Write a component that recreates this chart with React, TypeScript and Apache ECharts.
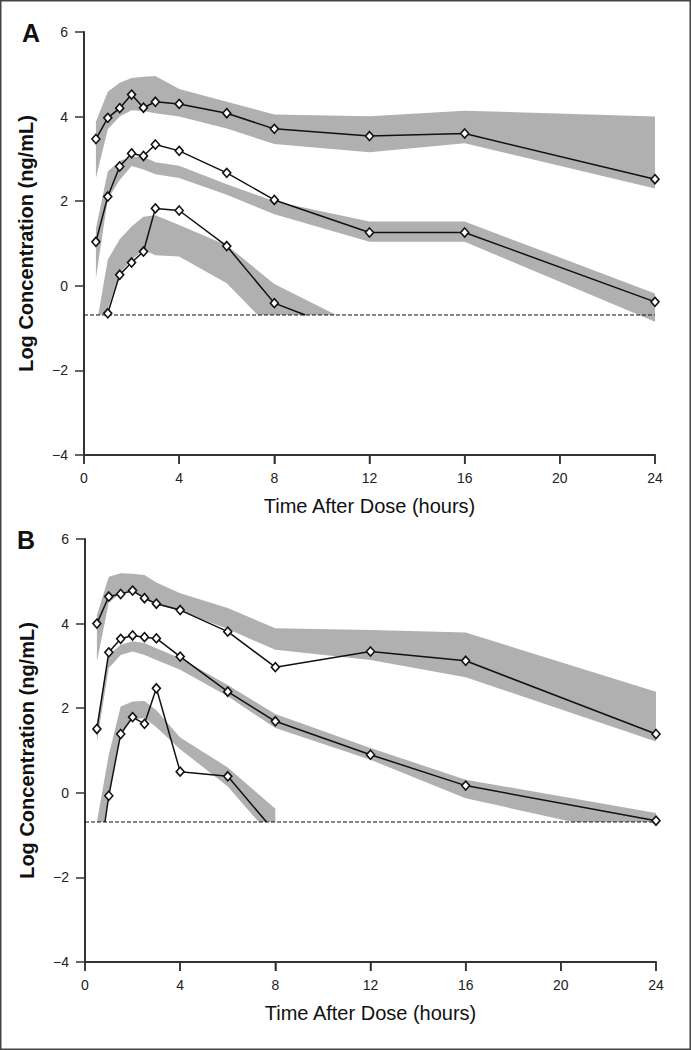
import React, { useEffect, useRef } from "react";
import * as echarts from "echarts";

// ---- data ----
const times = [0.5, 1, 1.5, 2, 2.5, 3, 4, 6, 8, 12, 16, 24];
const LLOQ = -0.69;
const xTicks = [0, 4, 8, 12, 16, 20, 24];
const xRange = [0, 24];
const yBottom = -4;

// Panel A observed
const aTop = [3.47, 3.97, 4.2, 4.52, 4.21, 4.35, 4.3, 4.08, 3.71, 3.54, 3.6, 2.52];
const aMid = [1.04, 2.11, 2.82, 3.13, 3.07, 3.34, 3.19, 2.67, 2.03, 1.26, 1.26, -0.38];
const aLowTimes = [1, 1.5, 2, 2.5, 3, 4, 6, 8];
const aLow = [-0.65, 0.26, 0.55, 0.81, 1.83, 1.78, 0.94, -0.41];
const aLowEnd: number[] = [9.3, -0.69];

// Panel B observed
const bTop = [4.0, 4.64, 4.7, 4.78, 4.6, 4.47, 4.32, 3.81, 2.97, 3.34, 3.12, 1.39];
const bMid = [1.51, 3.32, 3.64, 3.72, 3.68, 3.65, 3.22, 2.39, 1.69, 0.9, 0.17, -0.66];
const bLowTimes = [1, 1.5, 2, 2.5, 3, 4, 6];
const bLow = [-0.07, 1.39, 1.79, 1.63, 2.47, 0.5, 0.39];
const bLowStart: number[] = [0.84, -0.69];
const bLowEnd: number[] = [7.63, -0.69];

// Prediction bands: [time, value]
const aTopUpper = [[0.5, 3.88], [1, 4.59], [1.5, 4.8], [2, 4.91], [2.5, 4.94], [3, 4.96], [4, 4.65], [6, 4.35], [8, 4.05], [12, 4.01], [16, 4.14], [24, 4.0]];
const aTopLower = [[0.5, 2.54], [1, 3.7], [1.5, 4.0], [2, 4.15], [2.5, 4.13], [3, 4.08], [4, 4.0], [6, 3.72], [8, 3.35], [12, 3.16], [16, 3.37], [24, 2.3]];
const aMidUpper = [[0.5, 1.35], [1, 2.7], [1.5, 2.95], [2, 3.05], [2.5, 3.05], [3, 2.92], [4, 2.84], [6, 2.4], [8, 2.0], [12, 1.52], [16, 1.52], [24, -0.18]];
const aMidLower = [[0.5, 0.18], [1, 2.05], [1.5, 2.5], [2, 2.83], [2.5, 2.75], [3, 2.64], [4, 2.55], [6, 2.15], [8, 1.69], [12, 1.04], [16, 1.04], [24, -0.85]];
const aLowUpper = [[0.6, -0.69], [1, 0.62], [1.5, 1.1], [2, 1.4], [2.5, 1.63], [3, 1.67], [4, 1.44], [6, 0.96], [8, 0.04], [10.6, -0.69]];
const aLowLower = [[0.75, -0.69], [1, -0.55], [1.5, 0.3], [2, 0.61], [2.5, 0.85], [3, 0.72], [4, 0.69], [6, 0.06], [7.3, -0.69], [10.6, -0.69]];

const bTopUpper = [[0.5, 4.2], [1, 5.11], [1.5, 5.19], [2, 5.18], [2.5, 5.15], [3, 4.97], [4, 4.72], [6, 4.37], [8, 3.89], [12, 3.85], [16, 3.79], [24, 2.39]];
const bTopLower = [[0.5, 3.1], [1, 4.5], [1.5, 4.72], [2, 4.74], [2.5, 4.6], [3, 4.45], [4, 4.3], [6, 3.87], [8, 3.38], [12, 3.14], [16, 2.73], [24, 1.21]];
const bMidUpper = [[0.5, 1.65], [1, 3.25], [1.5, 3.5], [2, 3.58], [2.5, 3.54], [3, 3.42], [4, 3.18], [6, 2.55], [8, 1.86], [12, 1.06], [16, 0.31], [24, -0.48]];
const bMidLower = [[0.5, 1.2], [1, 2.95], [1.5, 3.26], [2, 3.34], [2.5, 3.26], [3, 3.14], [4, 2.91], [6, 2.28], [8, 1.53], [12, 0.78], [16, -0.13], [20.5, -0.69], [24, -0.69]];
const bLowUpper = [[0.5, -0.69], [1, 0.9], [1.5, 2.04], [2, 2.16], [2.5, 2.17], [3, 1.95], [4, 1.31], [6, 0.6], [8, -0.38]];
const bLowLower = [[0.85, -0.69], [1, 0.0], [1.5, 1.41], [2, 1.73], [2.5, 1.77], [3, 1.55], [4, 1.03], [6, 0.15], [7.3, -0.69], [8, -0.69]];

const FONT = "'Liberation Sans', Arial, Helvetica, sans-serif";
const BAND = "#b0b0b0";
const AXIS = "#333";
const GRIDS = [
  { left: 84, top: 32, width: 571, height: 423 },
  { left: 85, top: 539, width: 571, height: 423 },
];

function bandSeries(upper: number[][], lower: number[][], idx: number) {
  return {
    type: "custom",
    xAxisIndex: idx,
    yAxisIndex: idx,
    z: 1,
    silent: true,
    data: [[upper[0][0], upper[0][1]]],
    renderItem: (params: any, api: any) => {
      if (params.dataIndex !== 0) return null;
      const pts: number[][] = [];
      upper.forEach((p) => pts.push(api.coord(p)));
      for (let i = lower.length - 1; i >= 0; i--) pts.push(api.coord(lower[i]));
      return { type: "polygon", shape: { points: pts }, style: { fill: BAND } };
    },
  };
}

// bottom axis line + ticks drawn by a custom series through the axis scales
function baseAxisSeries(idx: number) {
  return {
    type: "custom",
    xAxisIndex: idx,
    yAxisIndex: idx,
    z: 8,
    silent: true,
    clip: false,
    data: [[xRange[0], yBottom]],
    renderItem: (params: any, api: any) => {
      if (params.dataIndex !== 0) return null;
      const a = api.coord([xRange[0], yBottom]);
      const b = api.coord([xRange[1], yBottom]);
      const children: any[] = [
        { type: "line", shape: { x1: a[0], y1: a[1], x2: b[0], y2: b[1] }, style: { stroke: AXIS, lineWidth: 2 } },
      ];
      xTicks.forEach((t) => {
        const p = api.coord([t, yBottom]);
        children.push({ type: "line", shape: { x1: p[0], y1: p[1], x2: p[0], y2: p[1] + 9 }, style: { stroke: AXIS, lineWidth: 1.5 } });
      });
      return { type: "group", children };
    },
  };
}

function obsSeries(data: any[], idx: number) {
  return {
    type: "line",
    xAxisIndex: idx,
    yAxisIndex: idx,
    z: 5,
    data,
    symbol: "diamond",
    symbolSize: [8, 9],
    showAllSymbol: true,
    lineStyle: { color: "#111", width: 1.5 },
    itemStyle: { color: "#fff", borderColor: "#111", borderWidth: 1.6 },
  };
}

function zipPts(ts: number[], vs: number[]) {
  return ts.map((t, i) => [t, vs[i]]);
}

function noSym(p: number[]) {
  return { value: p, symbol: "none" };
}

function lloqSeries(idx: number) {
  return {
    type: "line",
    xAxisIndex: idx,
    yAxisIndex: idx,
    z: 3,
    symbol: "none",
    data: [[xRange[0], LLOQ], [xRange[1], LLOQ]],
    lineStyle: { color: "#111", width: 1.2, type: [4, 2] },
  };
}

function xAxis(idx: number) {
  return {
    type: "value",
    gridIndex: idx,
    min: xRange[0],
    max: xRange[1],
    interval: 4,
    name: "Time After Dose (hours)",
    nameLocation: "middle",
    nameGap: 41,
    nameTextStyle: { fontFamily: FONT, fontSize: 20, color: "#111" },
    axisLine: { show: true, onZero: false, lineStyle: { color: AXIS, width: 2 } },
    axisTick: { show: true, length: 9, lineStyle: { color: AXIS, width: 1.5 } },
    axisLabel: { fontFamily: FONT, fontSize: 14, color: "#222", margin: 16 },
    splitLine: { show: false },
  };
}

function yAxis(idx: number) {
  return {
    type: "value",
    gridIndex: idx,
    min: yBottom,
    max: 6,
    interval: 2,
    name: "Log Concentration (ng/mL)",
    nameLocation: "middle",
    nameGap: 48,
    nameTextStyle: { fontFamily: FONT, fontSize: 20, fontWeight: "bold", color: "#111" },
    axisLine: { show: true, lineStyle: { color: AXIS, width: 2 } },
    axisTick: { show: true, length: 9, lineStyle: { color: AXIS, width: 1.5 } },
    axisLabel: {
      fontFamily: FONT,
      fontSize: 14,
      color: "#222",
      margin: 16,
      formatter: (v: number) => (v < 0 ? "\u2212" + Math.abs(v) : String(v)),
    },
    splitLine: { show: false },
  };
}

export default function App() {
  const ref = useRef<HTMLDivElement>(null);
  useEffect(() => {
    document.body.style.margin = "0";
    if (!ref.current) return;
    const chart = echarts.init(ref.current, null, { renderer: "svg" });
    chart.setOption({
      animation: false,
      grid: GRIDS,
      xAxis: [xAxis(0), xAxis(1)],
      yAxis: [yAxis(0), yAxis(1)],
      graphic: [
        { type: "rect", z: -1, silent: true, shape: { x: 0.75, y: 0.75, width: 689.5, height: 1048.5 }, style: { fill: "transparent", stroke: "#444", lineWidth: 1.5 } },
        { type: "text", left: 22, top: 20, style: { text: "A", font: "bold 25px " + FONT, fill: "#111" } },
        { type: "text", left: 17, top: 527, style: { text: "B", font: "bold 25px " + FONT, fill: "#111" } },
      ],
      series: [
        bandSeries(aTopUpper, aTopLower, 0),
        bandSeries(aMidUpper, aMidLower, 0),
        bandSeries(aLowUpper, aLowLower, 0),
        lloqSeries(0),
        baseAxisSeries(0),
        obsSeries(zipPts(times, aTop), 0),
        obsSeries(zipPts(times, aMid), 0),
        obsSeries([...zipPts(aLowTimes, aLow), noSym(aLowEnd)], 0),
        bandSeries(bTopUpper, bTopLower, 1),
        bandSeries(bMidUpper, bMidLower, 1),
        bandSeries(bLowUpper, bLowLower, 1),
        lloqSeries(1),
        baseAxisSeries(1),
        obsSeries(zipPts(times, bTop), 1),
        obsSeries(zipPts(times, bMid), 1),
        obsSeries([noSym(bLowStart), ...zipPts(bLowTimes, bLow), noSym(bLowEnd)], 1),
      ],
    });
    return () => chart.dispose();
  }, []);
  return <div ref={ref} style={{ width: 691, height: 1050 }} />;
}
